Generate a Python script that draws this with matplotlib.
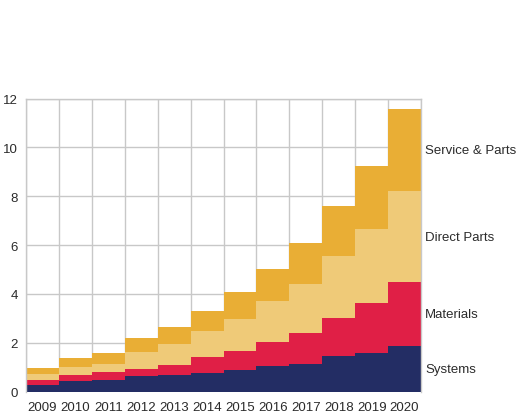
import numpy as np
import matplotlib.pyplot as plt

years = ["2009", "2010", "2011", "2012", "2013", "2014",
         "2015", "2016", "2017", "2018", "2019", "2020"]
systems = [0.29, 0.44, 0.49, 0.62, 0.66, 0.77, 0.89, 1.03, 1.14, 1.44, 1.60, 1.88]
materials = [0.20, 0.25, 0.32, 0.31, 0.44, 0.66, 0.78, 1.01, 1.27, 1.56, 2.01, 2.59]
direct_parts = [0.24, 0.30, 0.33, 0.70, 0.86, 1.07, 1.29, 1.66, 1.98, 2.54, 3.04, 3.74]
service_parts = [0.24, 0.37, 0.46, 0.55, 0.70, 0.82, 1.10, 1.30, 1.68, 2.07, 2.59, 3.34]

series = [
    ("Systems", systems, "#232d64"),
    ("Materials", materials, "#e01f46"),
    ("Direct Parts", direct_parts, "#efca78"),
    ("Service & Parts", service_parts, "#e9ae35"),
]

plt.rcParams["font.family"] = ["Liberation Sans", "DejaVu Sans"]

fig = plt.figure(figsize=(5.26, 4.14), dpi=100)
ax = fig.add_axes([26 / 526, 1 - 392.6 / 414, (421 - 26) / 526, (392.6 - 99.5) / 414])

n = len(years)
edges = np.arange(n + 1)
base = np.zeros(n)
for name, vals, color in series:
    vals = np.asarray(vals)
    top = base + vals
    ax.stairs(top, edges, baseline=base, fill=True, color=color, lw=0, zorder=2)
    ax.text(n + 0.12, (base[-1] + top[-1]) / 2, name, ha="left", va="center",
            fontsize=9.5, color="#2b2b2b", clip_on=False)
    base = top

ax.set_xlim(0, n)
ax.set_ylim(0, 12)
ax.set_xticks(edges[:-1] + 0.5)
ax.set_xticklabels(years)
ax.set_xticks(edges, minor=True)
ax.set_yticks(np.arange(0, 13, 2))
ax.tick_params(axis="both", which="both", length=0, labelsize=9.5, labelcolor="#2b2b2b")
ax.tick_params(axis="y", pad=6)
ax.tick_params(axis="x", pad=7)
ax.grid(axis="y", which="major", color="#c8c8c8", lw=1)
ax.grid(axis="x", which="minor", color="#c8c8c8", lw=1)
ax.set_axisbelow(True)
for side in ["top", "right", "left"]:
    ax.spines[side].set_color("#c8c8c8")
    ax.spines[side].set_linewidth(1)
ax.spines["bottom"].set_visible(False)

fig.savefig("out.png", dpi=100)
